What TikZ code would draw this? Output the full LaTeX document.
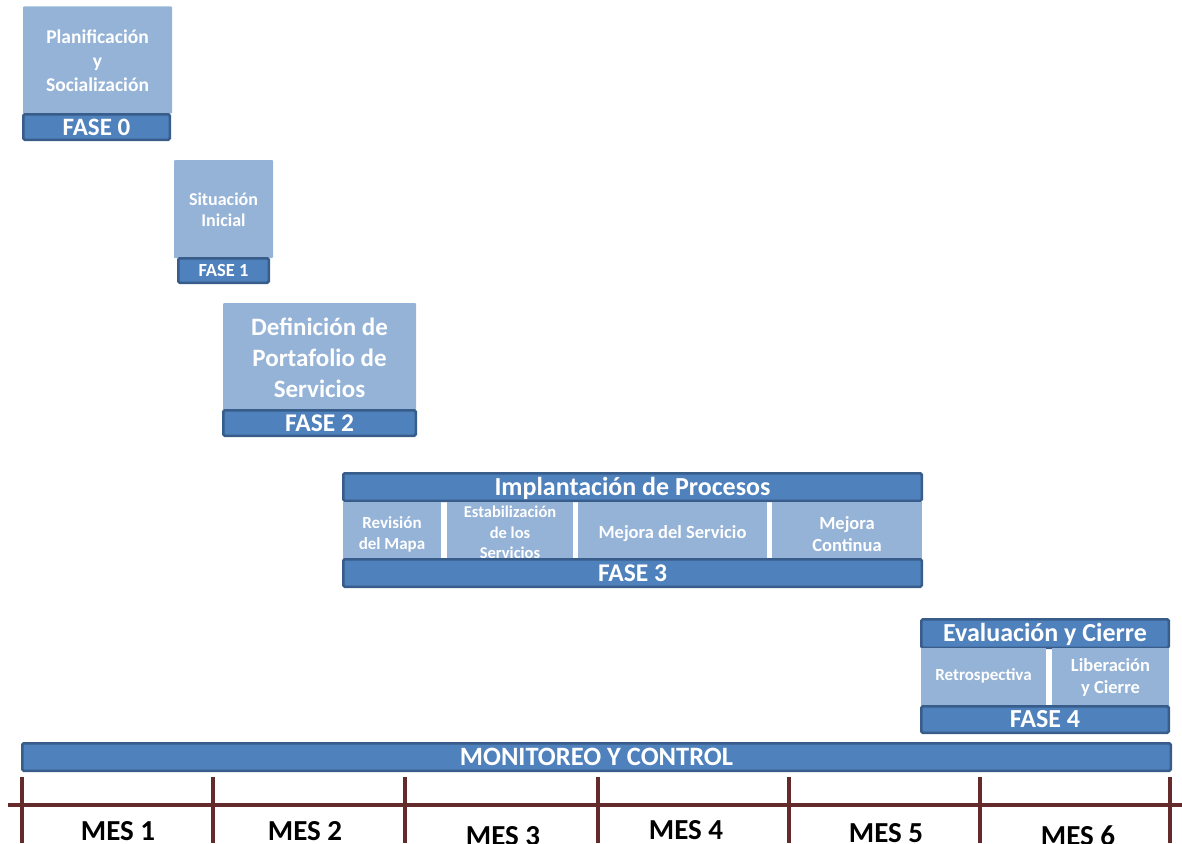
\documentclass[tikz,border=0pt]{standalone}
\usepackage{fontspec}
\setmainfont{Carlito}
\definecolor{panelblue}{HTML}{95B3D7}
\definecolor{barblue}{HTML}{4F81BD}
\definecolor{barline}{HTML}{385D8A}
\definecolor{axisred}{HTML}{652A2A}
\newcommand\fsz[2]{\fontsize{#1}{#2}\selectfont\bfseries}

\begin{document}
\begin{tikzpicture}[x=1pt,y=-1pt,
  panel/.style={fill=panelblue, draw=none, inner sep=0pt, rounded corners=1pt},
  bar/.style={fill=barblue, draw=barline, line width=2.5pt, inner sep=0pt, rounded corners=1.5pt},
  paneltext/.style={text=white, align=center, inner sep=0pt},
  bartext/.style={text=white, inner sep=0pt, anchor=base},
  axis/.style={draw=axisred, line width=4pt},
  monthtext/.style={text=black, inner sep=0pt, anchor=base, font=\fsz{29}{35}}]
\useasboundingbox (0,0) rectangle (1182,843);

% ---------- FASE 0 ----------
\node[panel, minimum width=149, minimum height=107] (p0) at (97.5,60) {};
\node[paneltext, font=\fsz{19.5}{24}] (p0t) at (97.5,61) {Planificación\\y\\Socialización};
\node[bar, minimum width=146.5, minimum height=25.5] (b0) at (96.5,127) {};
\node[bartext, font=\fsz{25}{30}] (b0t) at ([yshift=-8pt]b0.center) {FASE 0};

% ---------- FASE 1 ----------
\node[panel, minimum width=99, minimum height=98] (p1) at (223.5,209) {};
\node[paneltext, font=\fsz{18}{21}] (p1t) at (223.5,209.5) {Situación\\Inicial};
\node[bar, minimum width=90.5, minimum height=24.5] (b1) at (223.5,270.5) {};
\node[bartext, font=\fsz{18.5}{22}] (b1t) at ([yshift=-6pt]b1.center) {FASE 1};

% ---------- FASE 2 ----------
\node[panel, minimum width=193, minimum height=107] (p2) at (319.5,356.5) {};
\node[paneltext, font=\fsz{25}{31}] (p2t) at (319.5,357.5) {Definición de\\Portafolio de\\Servicios};
\node[bar, minimum width=192.5, minimum height=25.5] (b2) at (319.5,423) {};
\node[bartext, font=\fsz{25.5}{30}] (b2t) at ([yshift=-8.2pt]b2.center) {FASE 2};

% ---------- FASE 3 ----------
\node[bar, minimum width=578.5, minimum height=27.5] (h3) at (632.5,487) {};
\node[bartext, font=\fsz{26}{31}] (h3t) at ([yshift=-8.4pt]h3.center) {Implantación de Procesos};
\node[panel, rounded corners=0pt, minimum width=98, minimum height=57] (c31) at (392,530.5) {};
\node[panel, rounded corners=0pt, minimum width=126, minimum height=57] (c32) at (510,530.5) {};
\node[panel, rounded corners=0pt, minimum width=189, minimum height=57] (c33) at (672.5,530.5) {};
\node[panel, rounded corners=0pt, minimum width=150, minimum height=57] (c34) at (847,530.5) {};
\node[paneltext, font=\fsz{17}{21}] (c31t) at (392,534.5) {Revisión\\del Mapa};
\node[paneltext, font=\fsz{16.5}{20.5}] (c32t) at (510,532.5) {Estabilización\\de los\\Servicios};
\node[paneltext, font=\fsz{18.5}{22}] (c33t) at (672.5,534) {Mejora del Servicio};
\node[paneltext, font=\fsz{18.5}{22}] (c34t) at (847,534) {Mejora\\Continua};
\node[bar, minimum width=578.5, minimum height=27.5] (b3) at (632.5,573) {};
\node[bartext, font=\fsz{25.5}{30}] (b3t) at ([yshift=-8.2pt]b3.center) {FASE 3};

% ---------- FASE 4 ----------
\node[bar, minimum width=247.5, minimum height=28.5] (h4) at (1045,633.5) {};
\node[bartext, font=\fsz{26}{31}] (h4t) at ([yshift=-8.4pt]h4.center) {Evaluación y Cierre};
\node[panel, rounded corners=0pt, minimum width=125, minimum height=58] (c41) at (983.5,677) {};
\node[panel, rounded corners=0pt, minimum width=117, minimum height=58] (c42) at (1110.5,677) {};
\node[paneltext, font=\fsz{17}{21}] (c41t) at (983.5,676) {Retrospectiva};
\node[paneltext, font=\fsz{18.5}{22}] (c42t) at (1110.5,677) {Liberación\\y Cierre};
\node[bar, minimum width=247.5, minimum height=26.5] (b4) at (1045,719.5) {};
\node[bartext, font=\fsz{26}{31}] (b4t) at ([yshift=-8.4pt]b4.center) {FASE 4};

% ---------- Monitoreo y control ----------
\node[bar, minimum width=1148.5, minimum height=27.5] (mc) at (596.5,757) {};
\node[bartext, font=\fsz{26.5}{31}] (mct) at ([yshift=-8.5pt]mc.center) {MONITOREO Y CONTROL};

% ---------- Time axis ----------
\coordinate (axl) at (8,805);
\coordinate (axr) at (1182,805);
\foreach \i/\x in {0/22,1/213,2/405,3/598,4/789,5/980,6/1170}{
  \coordinate (tt\i) at (\x,777);
  \coordinate (tb\i) at (\x,843);
}
\draw[axis] (axl) -- (axr);
\foreach \i in {0,...,6}{ \draw[axis] (tt\i) -- (tb\i); }

\node[monthtext] (m1) at (118,840) {MES 1};
\node[monthtext] (m2) at (305,840) {MES 2};
\node[monthtext] (m3) at (503,845) {MES 3};
\node[monthtext] (m4) at (686,839) {MES 4};
\node[monthtext] (m5) at (886,842) {MES 5};
\node[monthtext] (m6) at (1078,845) {MES 6};
\end{tikzpicture}
\end{document}
